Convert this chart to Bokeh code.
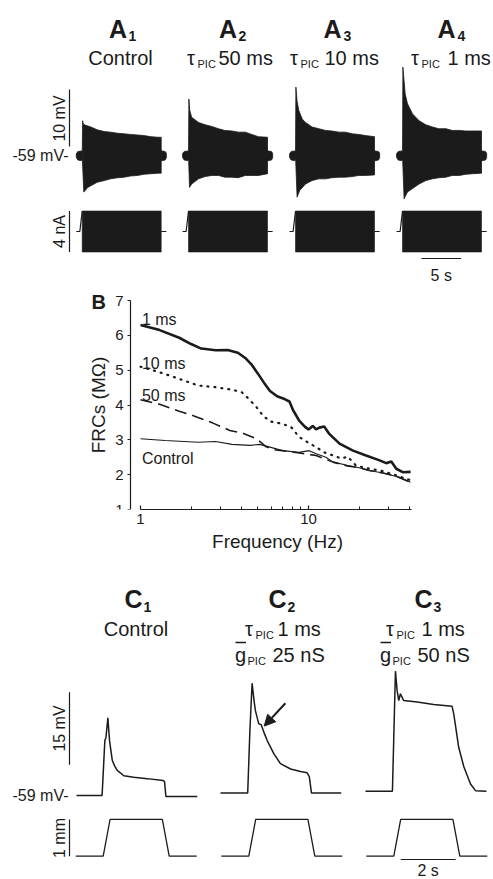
import math
from bokeh.plotting import figure
from bokeh.layouts import column
from bokeh.models import Range1d, FixedTicker, BasicTickFormatter, Arrow, NormalHead, Label
from bokeh.core.properties import value
from bokeh.embed import file_html
from bokeh.resources import INLINE

FONT = "Liberation Sans"
INK = "#1b1b1b"

# ======================= DATA =======================
# ---- Panel A: responses to a ZAP current (t in s from ZAP onset, V in mV) ----
A_TITLES = ["Control", "50 ms", "10 ms", "1 ms"]
ZAP_AMP_NA = 2.0
ZAP_DUR_S = 10.0

A1_UP_T = [0.0, 0.05, 0.15, 0.45, 1.1, 1.9, 2.8, 3.6, 4.5, 5.3, 6.1, 7.0, 7.8, 8.7, 9.6, 10.0]
A1_UP_V = [-59.0, -52.9, -53.5, -53.7, -54.0, -54.5, -54.8, -54.9, -55.1, -55.2, -55.3, -55.4, -55.5, -55.7, -55.8, -55.8]
A1_LO_T = [0.0, 0.2, 0.35, 0.7, 1.1, 1.9, 2.8, 3.6, 4.5, 5.3, 6.1, 7.0, 7.8, 8.7, 9.6, 10.0]
A1_LO_V = [-59.0, -65.4, -65.2, -64.6, -64.3, -63.7, -63.4, -63.1, -62.9, -62.8, -62.6, -62.5, -62.3, -62.2, -62.1, -62.1]

A2_UP_T = [0.0, 0.05, 0.15, 0.4, 1.27, 2.1, 2.95, 3.8, 4.6, 5.5, 6.3, 7.2, 8.0, 8.86, 10.0]
A2_UP_V = [-59.0, -49.1, -51.0, -52.3, -53.2, -53.6, -53.9, -54.3, -54.6, -54.7, -54.9, -54.9, -55.3, -55.7, -55.8]
A2_LO_T = [0.0, 0.13, 0.4, 1.27, 2.1, 2.95, 3.8, 4.6, 5.5, 6.3, 7.2, 8.0, 8.86, 10.0]
A2_LO_V = [-59.0, -64.6, -64.0, -63.1, -62.7, -62.5, -62.5, -62.8, -62.8, -62.9, -62.5, -62.5, -62.5, -62.2]

A3_UP_T = [0.0, 0.05, 0.2, 0.42, 0.85, 1.27, 2.1, 2.95, 3.8, 4.6, 5.5, 6.3, 7.2, 8.0, 8.86, 10.0]
A3_UP_V = [-59.0, -47.0, -49.5, -51.1, -52.6, -53.2, -54.0, -54.3, -54.6, -54.7, -54.9, -54.9, -55.2, -55.3, -55.5, -55.7]
A3_LO_T = [0.0, 0.2, 0.55, 1.27, 2.1, 2.95, 3.8, 4.6, 5.5, 6.3, 7.2, 8.0, 8.86, 10.0]
A3_LO_V = [-59.0, -66.3, -65.1, -64.0, -63.4, -63.1, -63.1, -62.9, -62.8, -62.8, -62.7, -62.5, -62.5, -62.4]

A4_UP_T = [0.0, 0.05, 0.34, 0.63, 1.27, 2.1, 2.95, 3.8, 4.6, 5.5, 6.3, 7.2, 8.0, 8.86, 10.0]
A4_UP_V = [-59.0, -43.5, -48.2, -49.9, -51.7, -52.9, -53.6, -54.0, -54.3, -54.3, -54.6, -54.6, -54.7, -54.7, -54.7]
A4_LO_T = [0.0, 0.2, 0.63, 1.27, 2.1, 2.95, 3.8, 4.6, 5.5, 6.3, 7.2, 8.0, 8.86, 10.0]
A4_LO_V = [-59.0, -66.6, -65.4, -64.8, -64.0, -63.4, -63.1, -62.9, -62.8, -62.5, -62.5, -62.3, -62.2, -62.1]

STUB_PRE_T = [-0.75, -0.55, -0.1, 0.0, 0.0, -0.1, -0.55, -0.75]
STUB_PRE_V = [-58.7, -58.3, -58.2, -58.3, -59.7, -59.9, -59.8, -59.3]
STUB_POST_T = [10.0, 10.1, 10.5, 10.65, 10.65, 10.5, 10.1, 10.0]
STUB_POST_V = [-58.1, -58.2, -58.3, -58.6, -59.4, -59.8, -59.9, -59.9]

I_PRE_T = [-0.75, -0.3, 0.0]
I_PRE_NA = [0.0, 0.0, 2.0]
I_POST_T = [10.0, 10.65]
I_POST_NA = [0.0, 0.0]

A_VBAR_MV = [-57.4, -47.4]   # 10 mV
A_IBAR_NA = [-2.0, 2.0]      # 4 nA
A_TBAR_S = [2.4, 7.4]        # 5 s

# ---- Panel B: frequency response curves ----
B_1MS_F = [1.0, 1.3, 1.7, 2.0, 2.3, 2.8, 3.3, 3.8, 4.2, 4.6, 5.0, 5.5, 5.9, 6.5, 7.2, 7.7, 8.1, 8.8, 9.5,
           10.0, 10.6, 11.1, 11.6, 12.4, 13.3, 15.3, 18.4, 22.0, 26.5, 29.0, 31.1, 33.3, 36.4, 40.5]
B_1MS_V = [6.30, 6.15, 5.93, 5.75, 5.62, 5.57, 5.58, 5.50, 5.35, 5.15, 4.90, 4.60, 4.40, 4.25, 4.17, 4.10, 3.85, 3.55, 3.38,
           3.30, 3.40, 3.30, 3.35, 3.38, 3.17, 2.89, 2.69, 2.55, 2.41, 2.33, 2.38, 2.17, 2.07, 2.08]
B_10MS_F = [1.0, 1.3, 1.7, 2.2, 2.8, 3.5, 4.0, 4.4, 4.9, 5.35, 5.9, 7.0, 7.9, 8.8, 9.9, 11.1, 12.4, 14.0, 15.7, 17.1,
            19.2, 23.1, 27.7, 33.3, 40.5]
B_10MS_V = [5.10, 4.94, 4.75, 4.56, 4.51, 4.44, 4.37, 4.18, 3.94, 3.70, 3.53, 3.46, 3.36, 3.08, 2.93, 2.79, 2.64, 2.55, 2.46, 2.52,
            2.26, 2.17, 2.10, 1.98, 1.84]
B_50MS_F = [1.0, 1.3, 1.7, 2.1, 2.7, 3.4, 4.1, 4.9, 5.6, 6.4, 7.0, 8.8, 11.1, 14.0, 17.0, 20.0, 23.0, 27.7, 33.3, 40.5]
B_50MS_V = [4.15, 4.02, 3.82, 3.68, 3.48, 3.27, 3.18, 3.03, 2.80, 2.71, 2.69, 2.62, 2.55, 2.36, 2.25, 2.20, 2.12, 2.05, 1.96, 1.78]
B_CTRL_F = [1.0, 1.4, 2.2, 2.8, 3.5, 4.5, 5.1, 5.9, 7.0, 8.8, 10.1, 11.1, 12.7, 14.0, 17.0, 20.0, 23.0, 27.7, 33.3, 40.5]
B_CTRL_V = [3.03, 2.98, 2.93, 2.95, 2.87, 2.84, 2.87, 2.79, 2.69, 2.64, 2.69, 2.60, 2.50, 2.36, 2.27, 2.20, 2.12, 2.05, 1.95, 1.78]
B_LABELS = ["1 ms", "10 ms", "50 ms", "Control"]
B_LABEL_Y = [6.45, 5.19, 4.27, 2.46]
B_YTICKS = [1, 2, 3, 4, 5, 6, 7]
B_XTICKS = [1, 10]
B_XMINOR = [2, 3, 4, 5, 6, 7, 8, 9, 20, 30, 40]

# ---- Panel C: responses to a muscle stretch (t in s from stretch onset) ----
C1_T = [-0.97, -0.04, 0.06, 0.10, 0.17, 0.23, 0.33, 0.41, 0.51, 0.75, 1.11, 1.60, 2.18, 2.23, 2.28, 3.42]
C1_V = [-59.0, -59.0, -47.6, -47.0, -42.9, -47.6, -51.7, -52.8, -53.8, -54.9, -55.2, -55.5, -55.9, -56.1, -59.2, -59.2]
C2_T = [-1.03, -0.04, 0.04, 0.12, 0.19, 0.24, 0.36, 0.45, 0.55, 0.67, 0.91, 1.15, 1.52, 1.88, 2.12, 2.20, 2.28, 3.36]
C2_V = [-58.5, -58.5, -45.5, -35.7, -39.3, -41.4, -44.1, -44.3, -45.9, -47.6, -50.3, -52.4, -53.5, -54.0, -54.3, -55.1, -58.5, -58.5]
C3_T = [-1.03, -0.05, 0.06, 0.12, 0.18, 0.24, 0.36, 0.85, 1.45, 2.12, 2.18, 2.36, 2.55, 2.79, 2.97, 3.37]
C3_V = [-58.1, -58.1, -33.2, -37.2, -39.3, -37.9, -39.3, -39.6, -40.1, -40.5, -42.05, -49.0, -53.1, -56.6, -58.0, -58.1]
C_LEN_T = [-1.0, 0.0, 0.25, 2.15, 2.4, 3.4]
C_LEN_MM = [0.0, 0.0, 1.0, 1.0, 0.0, 0.0]
C_VBAR_MV = [-52.6, -37.6]   # 15 mV
C_LBAR_MM = [0.0, 1.0]       # 1 mm
C_TBAR_S = [0.25, 2.25]      # 2 s
C_ARROW = [1.33, -39.85, 0.56, -44.6]  # tail t, tail V, tip t, tip V

# ======================= LAYOUT =======================
W = 493
A_H, B_H, C_H = 285, 285, 309
A_K, A_ONSET = 7.9, [81.7, 188.0, 295.0, 402.0]
A_BASE_PX, A_PXMV = 155.0, 5.7
A_IBASE_PX, A_PXNA = 231.0, 10.25
C_K, C_ONSET = 27.5, [102.7, 248.3, 393.3]
C_BASE_PX, C_PXMV = 225.0, 4.82
C_LBASE_PX, C_PXMM = 285.7, 36.8
B_PXDEC, B_PXUNIT = 168.0, 34.83


def canvas(h, y_range, extra_x, extra_y):
    p = figure(width=W, height=h, x_range=Range1d(0, W), y_range=y_range,
               x_axis_type=None, y_axis_type=None, output_backend="svg",
               toolbar_location=None, min_border=0, title=None)
    p.frame_align = False
    p.outline_line_color = None
    p.background_fill_color = "white"
    p.border_fill_color = "white"
    p.extra_x_ranges = extra_x
    ey = dict(extra_y)
    ey["py"] = Range1d(h, 0)
    p.extra_y_ranges = ey
    return p


def txt(p, x, y, s, size, bold=False, align="left", baseline="alphabetic", angle=0.0, xr="default", yr="py"):
    p.text(x=[x], y=[y], text=[s], text_font=value(FONT), text_font_size=f"{size}px",
           text_font_style="bold" if bold else "normal", text_align=align,
           text_baseline=baseline, angle=angle, text_color=INK,
           x_range_name=xr, y_range_name=yr)


def tau_title(p, x_sub, x_val, base, val):
    txt(p, x_sub - 10.5, base, "\u03c4", 20)
    txt(p, x_sub, base + 6, "PIC", 11)
    txt(p, x_val, base, val, 20)


def g_title(p, x_sub, x_val, base, val):
    x_g = x_sub - 12.5
    txt(p, x_g, base, "g", 20)
    p.segment(x0=[x_g + 0.5], y0=[base - 12], x1=[x_g + 11], y1=[base - 12], line_color=INK,
              line_width=1.4, y_range_name="py")
    txt(p, x_sub, base + 6, "PIC", 11)
    txt(p, x_val, base, val, 20)


# ---------------- Panel A ----------------
a_x = {f"a{i+1}": Range1d(-o / A_K, (W - o) / A_K) for i, o in enumerate(A_ONSET)}
a_y = Range1d(-59 - (A_H - A_BASE_PX) / A_PXMV, -59 + A_BASE_PX / A_PXMV)
a_cur = Range1d(-(A_H - A_IBASE_PX) / A_PXNA, A_IBASE_PX / A_PXNA)
pA = canvas(A_H, a_y, a_x, {"cur": a_cur})

A_TRACES = [(A1_UP_T, A1_UP_V, A1_LO_T, A1_LO_V), (A2_UP_T, A2_UP_V, A2_LO_T, A2_LO_V),
            (A3_UP_T, A3_UP_V, A3_LO_T, A3_LO_V), (A4_UP_T, A4_UP_V, A4_LO_T, A4_LO_V)]
for i, (ut, uv, lt, lv) in enumerate(A_TRACES):
    xr = f"a{i+1}"
    pA.patch(ut + lt[::-1], uv + lv[::-1], x_range_name=xr, fill_color=INK, line_color=INK, line_width=0.8)
    pA.patch(STUB_PRE_T, STUB_PRE_V, x_range_name=xr, fill_color=INK, line_color=INK, line_width=0.8)
    pA.patch(STUB_POST_T, STUB_POST_V, x_range_name=xr, fill_color=INK, line_color=INK, line_width=0.8)
    pA.line(I_PRE_T, I_PRE_NA, x_range_name=xr, y_range_name="cur", line_color=INK, line_width=1.2)
    pA.quad(left=[0.0], right=[ZAP_DUR_S], bottom=[-ZAP_AMP_NA], top=[ZAP_AMP_NA],
            x_range_name=xr, y_range_name="cur", fill_color=INK, line_color=INK, line_width=0.6)
    pA.line(I_POST_T, I_POST_NA, x_range_name=xr, y_range_name="cur", line_color=INK, line_width=1.2)

# scale bars
pA.segment(x0=[69], y0=[A_VBAR_MV[0]], x1=[69], y1=[A_VBAR_MV[1]], line_color=INK, line_width=1.2)
pA.segment(x0=[69], y0=[A_IBAR_NA[0]], x1=[69], y1=[A_IBAR_NA[1]], y_range_name="cur", line_color=INK, line_width=1.2)
pA.segment(x0=[A_TBAR_S[0]], y0=[258], x1=[A_TBAR_S[1]], y1=[258], x_range_name="a4", y_range_name="py",
           line_color=INK, line_width=1.2)
txt(pA, 58.5, 118, "10 mV", 16, align="center", baseline="middle", angle=math.pi / 2)
txt(pA, 68, -59.0, "-59 mV-", 16, align="right", baseline="middle", yr="default")
txt(pA, 58.5, 231, "4 nA", 16, align="center", baseline="middle", angle=math.pi / 2)
txt(pA, sum(A_TBAR_S) / 2, 275, "5 s", 16, align="center", xr="a4")

# titles
for cx, sx, d in [(117.5, 128, "1"), (227.5, 238, "2"), (332, 343, "3"), (446, 457, "4")]:
    txt(pA, cx, 28, "A", 25, bold=True, align="center")
    txt(pA, sx, 35, d, 14, bold=True)
txt(pA, 120, 57, A_TITLES[0], 20, align="center")
tau_title(pA, 197, 218, 57, A_TITLES[1])
tau_title(pA, 300, 324, 57, A_TITLES[2])
tau_title(pA, 421, 447, 57, A_TITLES[3])

# ---------------- Panel B ----------------
# frame spans x 88..466 px and y 287..509 px of this panel; the y axis is pinned 10 px left of 1 Hz
pB = figure(width=W, height=B_H, x_axis_type="log",
            x_range=Range1d(10 ** (-52 / B_PXDEC), 10 ** (326 / B_PXDEC)),
            y_range=Range1d(1, 7 + 13 / B_PXUNIT),
            min_border_left=88, min_border_right=27, min_border_top=2, min_border_bottom=61,
            output_backend="svg", toolbar_location=None, title=None)
pB.frame_align = False
pB.outline_line_color = None
pB.grid.visible = False
pB.background_fill_color = "white"
pB.border_fill_color = "white"
for ax in (pB.xaxis[0], pB.yaxis[0]):
    ax.axis_line_color = INK
    ax.axis_line_width = 1.2
    ax.major_tick_line_color = INK
    ax.major_tick_line_width = 1.2
    ax.minor_tick_line_color = INK
    ax.major_label_text_font = FONT
    ax.major_label_text_font_size = "15px"
    ax.major_label_text_color = INK
    ax.axis_label_text_font = FONT
    ax.axis_label_text_font_size = "19px"
    ax.axis_label_text_font_style = "normal"
    ax.axis_label_text_color = INK
    ax.formatter = BasicTickFormatter()
xa = pB.xaxis[0]
xa.ticker = FixedTicker(ticks=B_XTICKS, minor_ticks=B_XMINOR)
xa.bounds = (1, 10 ** (271 / B_PXDEC))
xa.major_tick_in, xa.major_tick_out = 4, 0
xa.minor_tick_in, xa.minor_tick_out = 3, 0
xa.major_label_standoff = 4
xa.axis_label = "Frequency (Hz)"
xa.axis_label_standoff = 4
ya = pB.yaxis[0]
ya.ticker = FixedTicker(ticks=B_YTICKS)
ya.bounds = (1, 7)
ya.fixed_location = 10 ** (-10 / B_PXDEC)
ya.minor_tick_line_color = None
ya.major_tick_in, ya.major_tick_out = 0, 3
ya.major_label_standoff = 4
ya.axis_label = "FRCs (M\u03a9)"
ya.axis_label_standoff = 3

pB.line(B_CTRL_F, B_CTRL_V, line_color=INK, line_width=1.1)
pB.line(B_50MS_F, B_50MS_V, line_color=INK, line_width=1.6, line_dash="12 6")
pB.line(B_10MS_F, B_10MS_V, line_color=INK, line_width=2.2, line_dash="1 6", line_cap="round")
pB.line(B_1MS_F, B_1MS_V, line_color=INK, line_width=2.6)
for s, y in zip(B_LABELS, B_LABEL_Y):
    pB.add_layout(Label(x=1.02, y=y, text=s, text_font=FONT, text_font_size="16px", text_color=INK,
                        text_baseline="alphabetic"))
pB.add_layout(Label(x=10 ** (-49 / B_PXDEC), y=7 - 1 / B_PXUNIT, text="B", text_font=FONT,
                    text_font_size="20px", text_font_style="bold", text_color=INK,
                    text_baseline="alphabetic"))

# ---------------- Panel C ----------------
c_x = {f"c{i+1}": Range1d(-o / C_K, (W - o) / C_K) for i, o in enumerate(C_ONSET)}
c_y = Range1d(-59 - (C_H - C_BASE_PX) / C_PXMV, -59 + C_BASE_PX / C_PXMV)
c_len = Range1d(-(C_H - C_LBASE_PX) / C_PXMM, C_LBASE_PX / C_PXMM)
pC = canvas(C_H, c_y, c_x, {"len": c_len})

for i, (t, v) in enumerate([(C1_T, C1_V), (C2_T, C2_V), (C3_T, C3_V)]):
    xr = f"c{i+1}"
    pC.line(t, v, x_range_name=xr, line_color=INK, line_width=1.5)
    pC.line(C_LEN_T, C_LEN_MM, x_range_name=xr, y_range_name="len", line_color=INK, line_width=1.3)

pC.add_layout(Arrow(end=NormalHead(size=11, fill_color=INK, line_color=INK),
                    x_start=C_ARROW[0], y_start=C_ARROW[1], x_end=C_ARROW[2], y_end=C_ARROW[3],
                    x_range_name="c2", line_color=INK, line_width=2))

pC.segment(x0=[69], y0=[C_VBAR_MV[0]], x1=[69], y1=[C_VBAR_MV[1]], line_color=INK, line_width=1.2)
pC.segment(x0=[69], y0=[C_LBAR_MM[0]], x1=[69], y1=[C_LBAR_MM[1]], y_range_name="len", line_color=INK, line_width=1.2)
pC.segment(x0=[C_TBAR_S[0]], y0=[289], x1=[C_TBAR_S[1]], y1=[289], x_range_name="c3", y_range_name="py",
           line_color=INK, line_width=1.2)
txt(pC, 58.5, 158, "15 mV", 16, align="center", baseline="middle", angle=math.pi / 2)
txt(pC, 68, -59.0, "-59 mV-", 16, align="right", baseline="middle", yr="default")
txt(pC, 58.5, 267.5, "1 mm", 16, align="center", baseline="middle", angle=math.pi / 2)
txt(pC, sum(C_TBAR_S) / 2, 300, "2 s", 16, align="center", xr="c3")

for cx, sx, d in [(133, 143, "1"), (277, 287, "2"), (423, 433, "3")]:
    txt(pC, cx, 28, "C", 25, bold=True, align="center")
    txt(pC, sx, 36, d, 14, bold=True)
txt(pC, 135.5, 58, "Control", 20, align="center")
tau_title(pC, 255, 277, 58, "1 ms")
g_title(pC, 247, 272, 84, "25 nS")
tau_title(pC, 396, 421, 58, "1 ms")
g_title(pC, 392, 417, 84, "50 nS")

layout = column(pA, pB, pC, spacing=0)
open("out.html", "w").write(file_html(layout, INLINE))
